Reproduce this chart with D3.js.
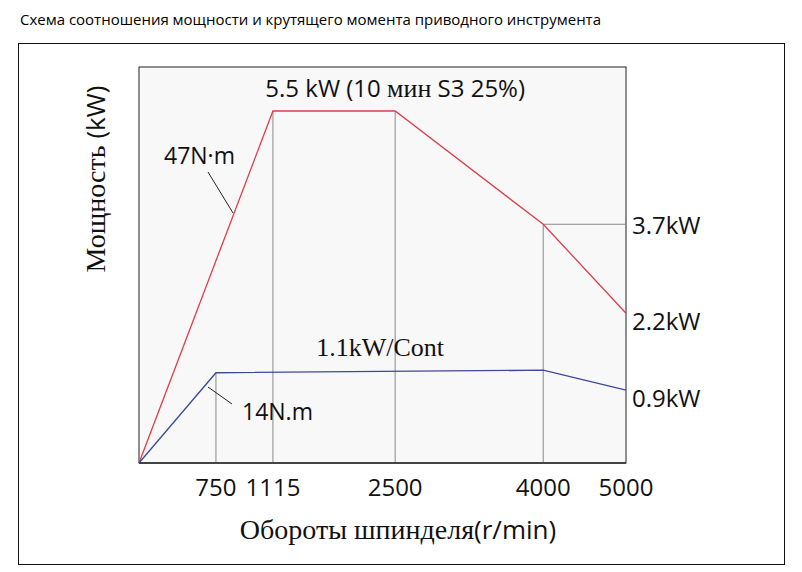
<!DOCTYPE html>
<html>
<head>
<meta charset="utf-8">
<script src="https://cdn.jsdelivr.net/npm/d3@7"></script>
<style>
  body { margin: 0; background: #fff; }
  svg text { fill: #111; }
</style>
</head>
<body>
<div id="chart"></div>
<script>
// speed ticks (r/min) and where each sits along the axis (schematic, not to scale)
const speedTicks = [0, 750, 1115, 2500, 4000, 5000];
const speedTickPos = [0, 0.158, 0.275, 0.526, 0.830, 1];
const tickLabels = ["", "750", "1115", "2500", "4000", "5000"];

// S3 25% curve (kW) and continuous curve (kW)
const peakSpeed = [0, 1115, 2500, 4000, 5000];
const peakPower = [0, 5.5, 5.5, 3.73, 2.34];
const contSpeed = [0, 750, 4000, 5000];
const contPower = [0, 1.41, 1.45, 1.14];

const title = "Схема соотношения мощности и крутящего момента приводного инструмента";

const W = 802, H = 572;
const margin = {top: 67, right: 176, bottom: 109, left: 139};
const width = W - margin.left - margin.right;
const height = H - margin.top - margin.bottom;

const sans = "'Open Sans', 'Noto Sans', sans-serif";
const serif = "'Liberation Serif', 'DejaVu Serif', serif";

const root = d3.select("#chart").append("svg")
    .attr("width", W)
    .attr("height", H);

root.append("text")
    .attr("x", 20)
    .attr("y", 25)
    .style("font-family", sans)
    .style("font-size", "15px")
    .style("fill", "#000")
    .attr("textLength", 581)
    .attr("lengthAdjust", "spacingAndGlyphs")
    .text(title);

root.append("rect")
    .attr("x", 18.5).attr("y", 43.5)
    .attr("width", 766).attr("height", 521)
    .attr("fill", "none")
    .attr("stroke", "#111");

const svg = root.append("g")
    .attr("transform", `translate(${margin.left},${margin.top})`);

const x = d3.scaleLinear()
    .domain(speedTicks)
    .range(speedTickPos.map(p => p * width));

const y = d3.scaleLinear()
    .domain([0, 5.5])
    .range([height, 44]);

svg.append("rect")
    .attr("width", width)
    .attr("height", height)
    .attr("fill", "#f8f8f8")
    .attr("stroke", "#222");

// guide lines down to the axis
const guides = [
    {s: 750, p: contPower[1]},
    {s: 1115, p: peakPower[1]},
    {s: 2500, p: peakPower[2]},
    {s: 4000, p: peakPower[3]}
];
svg.selectAll(".guide")
    .data(guides)
    .enter()
    .append("line")
    .attr("x1", d => x(d.s)).attr("x2", d => x(d.s))
    .attr("y1", d => y(d.p)).attr("y2", height)
    .attr("stroke", "#8a8a8a");

svg.append("line")
    .attr("x1", x(4000)).attr("x2", x(5000))
    .attr("y1", y(peakPower[3])).attr("y2", y(peakPower[3]))
    .attr("stroke", "#8a8a8a");

const line = d3.line()
    .x(d => x(d[0]))
    .y(d => y(d[1]));

svg.append("path")
    .datum(d3.zip(peakSpeed, peakPower))
    .attr("d", line)
    .attr("fill", "none")
    .attr("stroke", "#dc3e4a")
    .attr("stroke-width", 1.3);

svg.append("path")
    .datum(d3.zip(contSpeed, contPower))
    .attr("d", line)
    .attr("fill", "none")
    .attr("stroke", "#3b4a99")
    .attr("stroke-width", 1.3);

// bottom axis
svg.append("line")
    .attr("x1", 0).attr("x2", width)
    .attr("y1", height).attr("y2", height)
    .attr("stroke", "#444")
    .attr("stroke-width", 2);

svg.selectAll(".tick-label")
    .data(speedTicks.slice(1))
    .enter()
    .append("text")
    .attr("x", d => x(d))
    .attr("y", height + 33)
    .attr("text-anchor", "middle")
    .style("font-family", sans)
    .style("font-size", "24px")
    .text((d, i) => tickLabels[i + 1]);

// right side values
const sideLabels = [
    {p: peakPower[3], t: "3.7kW", dy: 10},
    {p: peakPower[4], t: "2.2kW", dy: 17},
    {p: contPower[3], t: "0.9kW", dy: 17}
];
svg.selectAll(".side")
    .data(sideLabels)
    .enter()
    .append("text")
    .attr("x", width + 6)
    .attr("y", d => y(d.p) + d.dy)
    .style("font-family", sans)
    .style("font-size", "24px")
    .text(d => d.t);

// annotations
const peakLabel = svg.append("text")
    .attr("x", x(2500))
    .attr("y", 30)
    .attr("text-anchor", "middle")
    .style("font-family", sans)
    .style("font-size", "24px");
peakLabel.append("tspan").text("5.5 kW (10 ");
peakLabel.append("tspan").style("font-family", serif).style("font-size", "26px").text("мин");
peakLabel.append("tspan").text(" S3 25%)");

svg.append("text")
    .attr("x", 25)
    .attr("y", 97)
    .style("font-family", sans)
    .style("font-size", "23px")
    .text("47N·m");

svg.append("line")
    .attr("x1", 69).attr("y1", 105)
    .attr("x2", 94).attr("y2", 146)
    .attr("stroke", "#222");

svg.append("text")
    .attr("x", 103)
    .attr("y", 353)
    .style("font-family", sans)
    .style("font-size", "23px")
    .text("14N.m");

svg.append("line")
    .attr("x1", 69).attr("y1", 320)
    .attr("x2", 93).attr("y2", 337)
    .attr("stroke", "#222");

svg.append("text")
    .attr("x", x(2500) - 15)
    .attr("y", 289)
    .attr("text-anchor", "middle")
    .style("font-family", serif)
    .style("font-size", "26px")
    .text("1.1kW/Cont");

// axis titles
const xt = root.append("text")
    .attr("x", 398)
    .attr("y", 539)
    .attr("text-anchor", "middle")
    .style("font-family", serif)
    .style("font-size", "28px");
xt.append("tspan").text("Обороты шпинделя");
xt.append("tspan").style("font-family", sans).style("font-size", "26px").text("(r/min)");

const yt = root.append("text")
    .attr("transform", "translate(105,179) rotate(-90)")
    .attr("text-anchor", "middle")
    .style("font-family", serif)
    .style("font-size", "28px");
yt.append("tspan").text("Мощность ");
yt.append("tspan").style("font-family", sans).style("font-size", "26px").text("(kW)");
</script>
</body>
</html>
